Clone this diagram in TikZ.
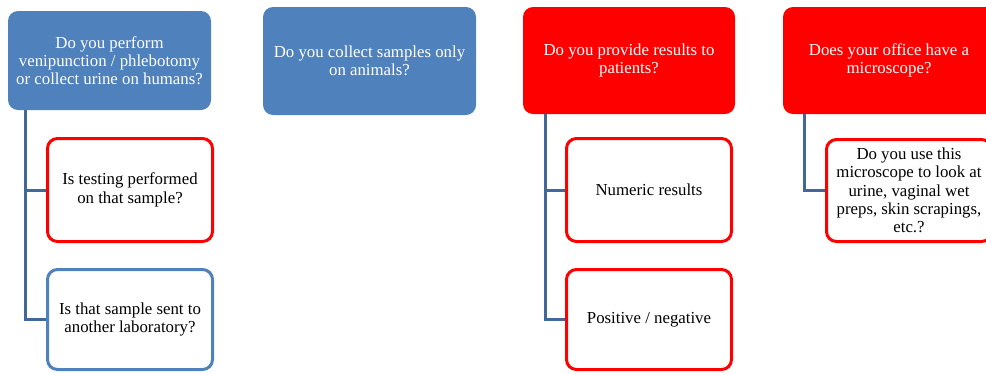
\documentclass[tikz,border=0pt]{standalone}
\usepackage{fontspec}
\setmainfont{Liberation Serif}
\definecolor{boxblue}{HTML}{4F81BD}
\definecolor{connblue}{HTML}{41679B}
\definecolor{boxred}{HTML}{FF0000}
\begin{document}
\begin{tikzpicture}[x=1pt,y=-1pt,
  every node/.style={font=\fontsize{16.8}{18.3}\selectfont, align=center, inner sep=0pt},
  topbox/.style={rectangle, rounded corners=10pt, text=white},
  childbox/.style={rectangle, rounded corners=10pt, draw, line width=3pt, fill=white, text=black,
     minimum width=165pt, minimum height=103pt},
  conn/.style={draw=connblue, line width=3pt}]
\useasboundingbox (0,0) rectangle (986,373);
\clip (0,0) rectangle (986,373);
% top boxes
\node[topbox, fill=boxblue, minimum width=203pt, minimum height=99pt] (b1) at (109.5,60.5)
  {Do you perform\\venipunction / phlebotomy\\or collect urine on humans?};
\node[topbox, fill=boxblue, minimum width=213pt, minimum height=108pt] (b2) at (369.5,61)
  {Do you collect samples only\\on animals?};
\node[topbox, fill=boxred, minimum width=212pt, minimum height=107pt] (b3) at (629,60.5)
  {Do you provide results to\\patients?};
\node[topbox, fill=boxred, minimum width=212pt, minimum height=107pt] (b4) at (889,60.5)
  {Does your office have a\\microscope?};
% children
\node[childbox, draw=boxred] (c1a) at (130,190) {Is testing performed\\on that sample?};
\node[childbox, draw=boxblue, minimum height=100pt] (c1b) at (130,319.5) {Is that sample sent to\\another laboratory?};
\node[childbox, draw=boxred] (c3a) at (649,190) {Numeric results};
\node[childbox, draw=boxred, minimum height=100pt] (c3b) at (649,319.5) {Positive / negative};
\node[childbox, draw=boxred, minimum height=102pt] (c4a) at (909,190.5)
  {Do you use this\\microscope to look at\\urine, vaginal wet\\preps, skin scrapings,\\etc.?};
% connectors
\coordinate (s1) at ([xshift=18pt]b1.south west);
\coordinate (s3) at ([xshift=23pt]b3.south west);
\coordinate (s4) at ([xshift=22pt]b4.south west);
\draw[conn] (s1) |- (c1a.west);
\draw[conn] (s1) |- (c1b.west);
\draw[conn] (s3) |- (c3a.west);
\draw[conn] (s3) |- (c3b.west);
\draw[conn] (s4) |- (c4a.west);
\end{tikzpicture}
\end{document}
